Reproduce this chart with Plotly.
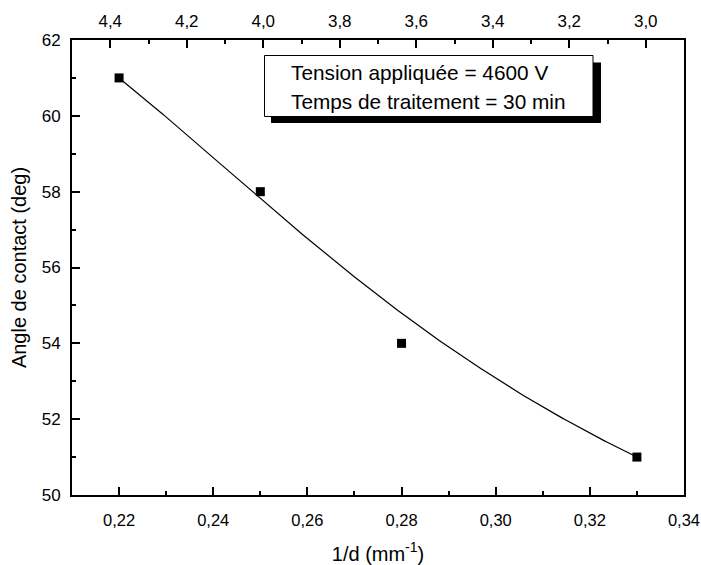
import numpy as np
import plotly.graph_objects as go
from math import comb

inv_d = [0.22, 0.25, 0.28, 0.33]
angle = [61, 58, 54, 51]
bottom_ticks = [0.22, 0.24, 0.26, 0.28, 0.30, 0.32, 0.34]
top_ticks = [4.4, 4.2, 4.0, 3.8, 3.6, 3.4, 3.2, 3.0]
y_ticks = [50, 52, 54, 56, 58, 60, 62]
note_lines = ["Tension appliquée = 4600 V", "Temps de traitement = 30 min"]

# smooth B-spline (Bezier) using the data points as control points
t = np.linspace(0, 1, 300)[:, None]
P = np.array([inv_d, angle]).T
n = len(P) - 1
curve = sum(comb(n, k) * (t ** k) * ((1 - t) ** (n - k)) * P[k] for k in range(n + 1))

FONT = "Arial, Liberation Sans, sans-serif"

fig = go.Figure()
fig.add_trace(go.Scatter(x=curve[:, 0], y=curve[:, 1], mode="lines",
                         line=dict(color="black", width=1.2), showlegend=False, hoverinfo="skip"))
fig.add_trace(go.Scatter(x=inv_d, y=angle, mode="markers",
                         marker=dict(symbol="square", size=9, color="black"), showlegend=False))
# dummy trace to activate top axis
fig.add_trace(go.Scatter(x=[4.0], y=[56], xaxis="x2", mode="markers",
                         marker=dict(opacity=0), showlegend=False, hoverinfo="skip"))

W, H = 701, 565
L, T = 72, 40
pw, ph = 612, 455
R, B = W - L - pw, H - T - ph

def px(sx):
    return (sx - L) / pw

def py(sy):
    return 1 - (sy - T) / ph

tick_common = dict(ticks="inside", ticklen=8, tickwidth=1.5, tickcolor="black",
                   showgrid=False, zeroline=False, automargin=False,
                   showline=True, linecolor="black")

fig.update_layout(
    width=W, height=H, margin=dict(l=L, r=R, t=T, b=B),
    paper_bgcolor="white", plot_bgcolor="white",
    separators=",.",
    font=dict(family=FONT, color="black", size=17),
    xaxis=dict(range=[0.21, 0.34], tickvals=bottom_ticks, tickformat=".2f",
               minor=dict(dtick=0.01, ticks="inside", ticklen=4, tickwidth=1.5, tickcolor="black"),
               linewidth=1.5, tickfont=dict(size=16.5), ticklabelstandoff=9,
               title=dict(text="1/d (mm<sup>-1</sup>)", font=dict(size=20), standoff=19),
               **tick_common),
    xaxis2=dict(range=[4.5, 2.9], overlaying="x", side="top", tickvals=top_ticks, tickformat=".1f",
                minor=dict(dtick=0.1, ticks="inside", ticklen=4, tickwidth=1.5, tickcolor="black"),
                linewidth=1.5, tickfont=dict(size=17), ticklabelstandoff=4,
                **tick_common),
    yaxis=dict(range=[50, 62], tickvals=y_ticks, tickformat="d",
               minor=dict(dtick=1, ticks="inside", ticklen=4, tickwidth=1.5, tickcolor="black"),
               linewidth=2, mirror=True, tickfont=dict(size=17), ticklabelstandoff=6,
               title=dict(text="Angle de contact (deg)", font=dict(size=20), standoff=10),
               **tick_common),
)

# text box with shadow
fig.add_shape(type="rect", xref="paper", yref="paper",
              x0=px(271), x1=px(601), y0=py(123), y1=py(62.5),
              fillcolor="black", line=dict(width=0), layer="above")
fig.add_shape(type="rect", xref="paper", yref="paper",
              x0=px(264.5), x1=px(593), y0=py(116.5), y1=py(55.5),
              fillcolor="white", line=dict(color="black", width=1), layer="above")
for line, yy in zip(note_lines, [73, 101.5]):
    fig.add_annotation(xref="paper", yref="paper", x=px(289), y=py(yy), text=line,
                       showarrow=False, xanchor="left", yanchor="middle",
                       font=dict(size=20.8, family=FONT, color="black"))

fig.write_html("out.html", config={"displayModeBar": False},
               post_script="document.body.style.margin='0';document.body.style.overflow='hidden';")
